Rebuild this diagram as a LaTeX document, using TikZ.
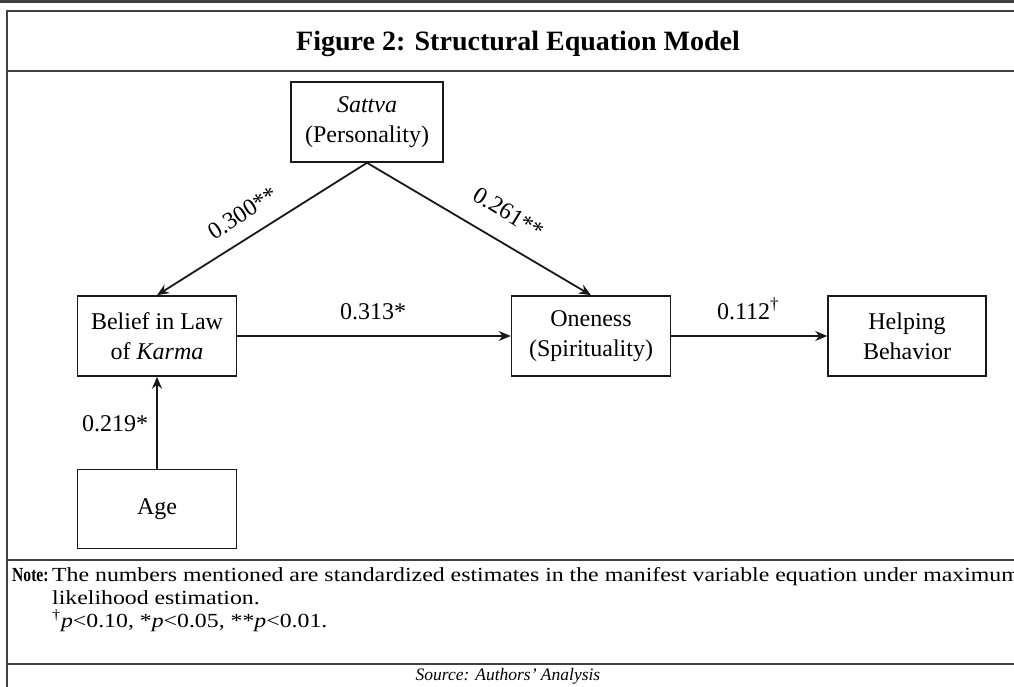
\documentclass[tikz,border=0pt]{standalone}
\usepackage{fontspec}
\usepackage{graphicx}
\setmainfont{Liberation Serif}
\newfontfamily\notefam[FakeStretch=1.19]{Liberation Serif}
\usetikzlibrary{arrows.meta}
\begin{document}
\begin{tikzpicture}[x=1pt,y=-1pt,
  box/.style={draw=black!90, line width=1.6pt, align=center, inner sep=0pt,
    font=\fontsize{24}{30}\selectfont},
  lbl/.style={font=\fontsize{24}{28}\selectfont, inner sep=0pt},
  arr/.style={-{Stealth[length=12pt,width=10pt,inset=4pt]}, black!90},
  frame/.style={black!75},
  notefont/.style={font=\notefam\fontsize{20}{23}\selectfont, inner sep=0pt}
]
\useasboundingbox (0,0) rectangle (1014,687);
\fill[white] (0,0) rectangle (1014,687);
% frame
\draw[frame, line width=2.6pt] (0,1.3) -- (1014,1.3);
\draw[frame, line width=1.3pt] (5.5,11) -- (1014,11);
\draw[frame, line width=2pt] (6.5,10.5) -- (6.5,687);
\draw[frame, line width=1.4pt] (6,71) -- (1014,71);
\draw[frame, line width=1.4pt] (6,560) -- (1014,560);
\draw[frame, line width=1.4pt] (6,664) -- (1014,664);
% title
\node[font=\bfseries\fontsize{28}{32}\selectfont, anchor=base, inner sep=0pt] (title) at (518,51) {Figure 2: Structural Equation Model};
% boxes
\node[box, minimum width=152pt, minimum height=80pt] (sattva) at (367,122) {\textit{Sattva}\\(Personality)};
\node[box, minimum width=159pt, minimum height=80pt] (belief) at (157,336) {Belief in Law\\of \textit{Karma}};
\node[box, minimum width=159pt, minimum height=79pt] (age) at (157,509) {Age};
\node[box, minimum width=159pt, minimum height=80pt] (oneness) at (591,336) {Oneness\\(Spirituality)};
\node[box, minimum width=158pt, minimum height=80pt] (helping) at (907,336) {Helping\\Behavior};
% connectors
\draw[arr, line width=1.8pt] (sattva.south) -- (belief.north);
\draw[arr, line width=1.8pt] (sattva.south) -- (oneness.north);
\draw[arr, line width=1.3pt] (belief.east) -- (oneness.west);
\draw[arr, line width=1.3pt] (oneness.east) -- (helping.west);
\draw[arr, line width=2.2pt] (age.north) -- (belief.south);
% labels
\node[lbl, rotate=32.4] (l300) at (243,213) {0.300**};
\node[lbl, rotate=-31.7] (l261) at (509,213) {0.261**};
\node[lbl, anchor=base] (l313) at (373,319) {0.313*};
\node[lbl, anchor=base] (l112) at (748,319) {0.112\textsuperscript{†}};
\node[lbl, anchor=base] (l219) at (115,431) {0.219*};
% note
\node[inner sep=0pt, anchor=base west, font=\bfseries\fontsize{20}{23}\selectfont] (notelbl) at (12,581) {\scalebox{0.78}[1]{Note:}};
\node[notefont, anchor=base west] (n1) at (52,581) {The numbers mentioned are standardized estimates in the manifest variable equation under maximum};
\node[notefont, anchor=base west] (n2) at (52,604) {likelihood estimation.};
\node[notefont, anchor=base west] (n3) at (52,627) {\textsuperscript{†}\textit{p}<0.10, *\textit{p}<0.05, **\textit{p}<0.01.};
% source
\node[font=\itshape\fontsize{17.5}{20}\selectfont, inner sep=0pt] (src) at (508,676) {Source: Authors' Analysis};
\end{tikzpicture}
\end{document}
